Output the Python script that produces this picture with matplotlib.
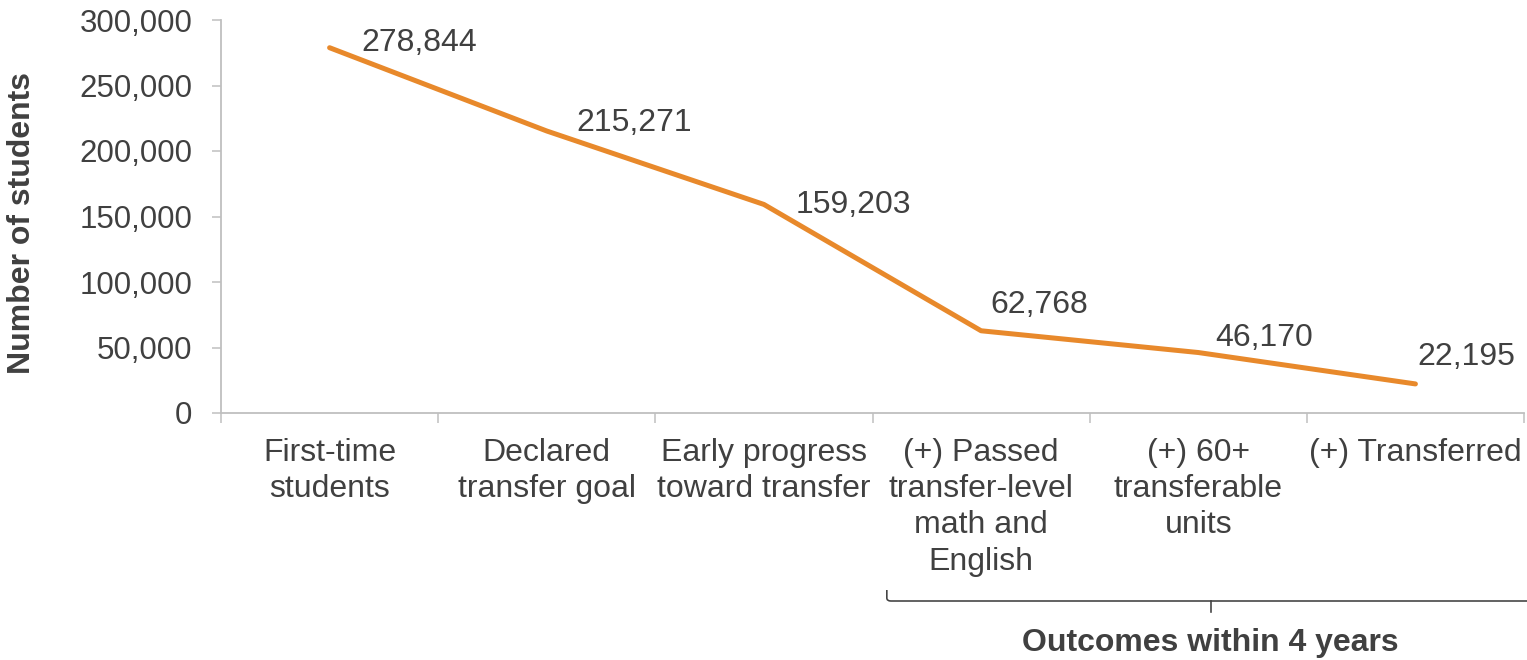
import matplotlib
matplotlib.use("Agg")
import matplotlib.pyplot as plt
import matplotlib.transforms as mtransforms
from matplotlib.path import Path
from matplotlib.patches import PathPatch
from matplotlib.ticker import FuncFormatter, FixedLocator

categories = [
    "First-time\nstudents",
    "Declared\ntransfer goal",
    "Early progress\ntoward transfer",
    "(+) Passed\ntransfer-level\nmath and\nEnglish",
    "(+) 60+\ntransferable\nunits",
    "(+) Transferred",
]
students = [278844, 215271, 159203, 62768, 46170, 22195]
y_ticks = [0, 50000, 100000, 150000, 200000, 250000, 300000]
y_label = "Number of students"
group_label = "Outcomes within 4 years"

# label offsets in pixels (dx to left edge, dy up to centre)
label_offsets = [(32, 5), (30, 8), (32, -1), (9, 26), (17, 15), (2, 27)]

plt.rcParams['font.family'] = ['Liberation Sans', 'DejaVu Sans']
TXT = "#404040"
AX = "#BFBFBF"
LINE = "#E8892B"
W, H = 1527, 660
px = 72 / 100.0
FS = 23

fig = plt.figure(figsize=(W / 100, H / 100), dpi=100)
ax = fig.add_axes([221 / W, (H - 413) / H, (1524 - 221) / W, (413 - 20) / H])

x = list(range(len(categories)))
ax.plot(x, students, color=LINE, lw=5 * px, solid_capstyle='round',
        solid_joinstyle='round', clip_on=False)

for xi, v, (dx, dy) in zip(x, students, label_offsets):
    ax.annotate(f"{v:,}", (xi, v), xytext=(dx * px, dy * px),
                textcoords='offset points', ha='left', va='center',
                fontsize=FS, color=TXT)

ax.set_xlim(-0.5, len(categories) - 0.5)
ax.set_ylim(0, 300000)
ax.set_yticks(y_ticks)
ax.yaxis.set_major_formatter(FuncFormatter(lambda v, p: f"{int(v):,}"))
ax.tick_params(axis='y', colors=AX, labelcolor=TXT, labelsize=22.5,
               length=9 * px, width=1.5 * px, pad=14)

ax.set_xticks(x)
ax.set_xticklabels(categories, fontsize=FS, color=TXT, linespacing=1.27)
ax.xaxis.set_minor_locator(FixedLocator([i - 0.5 for i in range(len(categories) + 1)]))
ax.tick_params(axis='x', which='major', length=0, pad=18)
ax.tick_params(axis='x', which='minor', length=10 * px, width=1.5 * px, colors=AX)

for s in ['top', 'right']:
    ax.spines[s].set_visible(False)
for s in ['left', 'bottom']:
    ax.spines[s].set_color(AX)
    ax.spines[s].set_linewidth(1.8 * px)

fig.text(22 / W, (H - 223) / H, y_label, rotation=90, ha='center', va='center',
         fontsize=FS, fontweight='bold', color=TXT)

# bracket below outcome categories (x in data, y in figure pixels)
trans = mtransforms.blended_transform_factory(ax.transData, fig.transFigure)
xl = 2.566
xr = 5.5 + 3 / 217.2
xc = 4.058
y_top = (H - 590) / H
y_line = (H - 601) / H
y_tick = (H - 612) / H
r = 4 / 217.2
verts = [(xl, y_top), (xl, y_line + 3 / H), (xl, y_line), (xl + r, y_line), (xr, y_line)]
codes = [Path.MOVETO, Path.LINETO, Path.CURVE3, Path.CURVE3, Path.LINETO]
fig.add_artist(PathPatch(Path(verts, codes), transform=trans, fill=False,
                         edgecolor=TXT, lw=1.6 * px, clip_on=False))
fig.add_artist(plt.Line2D([xc, xc], [y_line, y_tick], transform=trans,
                          color=TXT, lw=1.6 * px, clip_on=False))
fig.text(1210 / W, (H - 643) / H, group_label, ha='center', va='center',
         fontsize=FS, fontweight='bold', color=TXT)

fig.savefig("out.png", dpi=100)
